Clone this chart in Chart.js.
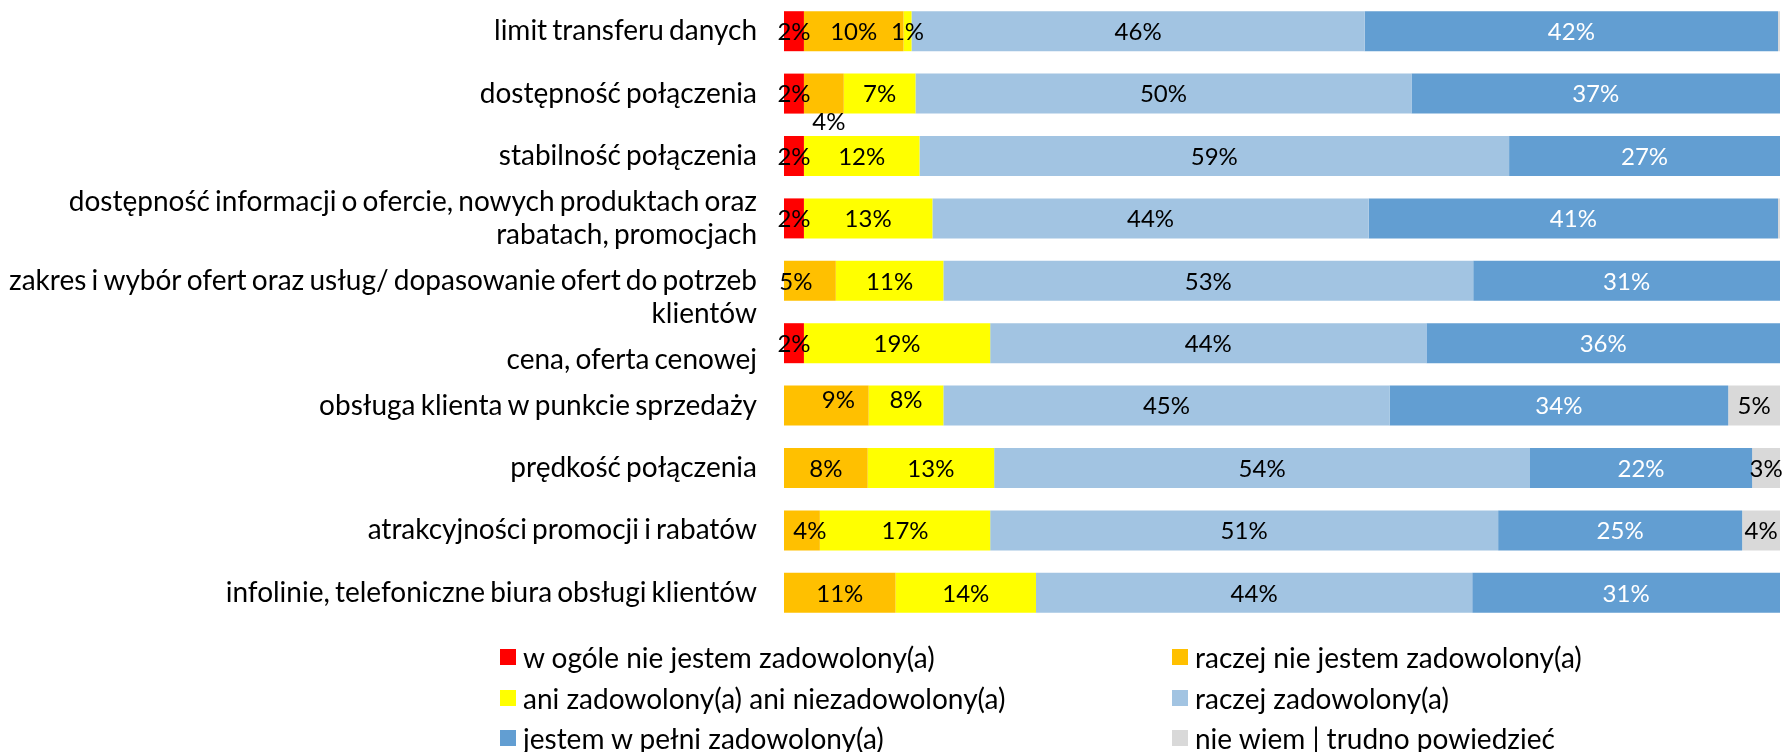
<!DOCTYPE html>
<html>
<head>
<meta charset="utf-8">
<script src="https://cdn.jsdelivr.net/npm/chart.js@4.4.1/dist/chart.umd.min.js"></script>
<style>
  body { margin: 0; background: #fff; }
  #wrap { position: relative; width: 1785px; height: 752px; }
  #legend { position: absolute; left: 0; top: 0; width: 1785px; height: 752px; pointer-events: none; }
  .item { position: absolute; height: 40px; display: flex; align-items: center; font-family: Lato, sans-serif; font-size: 28px; color: #000; white-space: nowrap; }
  .box { width: 16px; height: 16px; margin-right: 7px; }
</style>
</head>
<body>
<div id="wrap">
  <canvas id="chart"></canvas>
  <div id="legend"></div>
</div>
<script>
const categories = [
    "limit transferu danych",
    "dostępność połączenia",
    "stabilność połączenia",
    ["dostępność informacji o ofercie, nowych produktach oraz", "rabatach, promocjach"],
    ["", "zakres i wybór ofert oraz usług/ dopasowanie ofert do potrzeb", "klientów"],
    ["", "cena, oferta cenowej"],
    "obsługa klienta w punkcie sprzedaży",
    "prędkość połączenia",
    "atrakcyjności promocji i rabatów",
    "infolinie, telefoniczne biura obsługi klientów"
];

const seriesNames = [
    "w ogóle nie jestem zadowolony(a)",
    "raczej nie jestem zadowolony(a)",
    "ani zadowolony(a) ani niezadowolony(a)",
    "raczej zadowolony(a)",
    "jestem w pełni zadowolony(a)",
    "nie wiem | trudno powiedzieć"
];

const notSatisfied = [2, 2, 2, 2, 0, 2, 0, 0, 0, 0];
const ratherNot = [10, 4, 0, 0, 5.2, 0, 8.5, 8.4, 3.6, 11.2];
const neutral = [0.8, 7.2, 11.6, 12.9, 10.8, 18.7, 7.5, 12.7, 17.1, 14.1];
const ratherYes = [45.5, 49.8, 59.2, 43.8, 53.2, 43.8, 44.8, 53.8, 51, 43.8];
const fullySatisfied = [41.5, 37, 27.2, 41.1, 30.8, 35.5, 34, 22.3, 24.5, 30.9];
const dontKnow = [0.2, 0, 0, 0.2, 0, 0, 5.2, 2.8, 3.8, 0];

const colors = ['#ff0000', '#ffc000', '#ffff00', '#a2c4e2', '#629ed2', '#d9d9d9'];

// Excel moved a few crowded labels off the segment centre
const labelNudge = { '1,1': [5, 28], '1,4': [-14, 0], '1,6': [12, -6], '2,6': [0, -6], '1,8': [8, 0] };

const allSeries = [notSatisfied, ratherNot, neutral, ratherYes, fullySatisfied, dontKnow];

const barLabels = {
    id: 'barLabels',
    beforeDraw(chart) {
        // category labels in the original have very tight word gaps
        chart.ctx.wordSpacing = '-2px';
    },
    afterDatasetsDraw(chart) {
        const ctx = chart.ctx;
        ctx.save();
        ctx.wordSpacing = '0px';
        ctx.font = '24px Lato';
        ctx.textAlign = 'center';
        ctx.textBaseline = 'middle';
        chart.data.datasets.forEach((ds, i) => {
            const meta = chart.getDatasetMeta(i);
            meta.data.forEach((bar, j) => {
                const v = ds.data[j];
                if (v < 0.5) return;
                let x = (bar.x + bar.base) / 2;
                let y = bar.y + 1;
                const n = labelNudge[i + ',' + j];
                if (n) { x += n[0]; y += n[1]; }
                ctx.fillStyle = i === 4 ? '#ffffff' : '#000000';
                ctx.fillText(Math.round(v) + '%', x, y);
            });
        });
        ctx.restore();
    }
};

const ctx = document.getElementById('chart').getContext('2d');
document.getElementById('chart').parentNode.style.height = '752px';

const chart = new Chart(ctx, {
    type: 'bar',
    data: {
        labels: categories,
        datasets: allSeries.map((data, i) => ({
            label: seriesNames[i],
            data: data,
            backgroundColor: colors[i],
            borderWidth: 0,
            categoryPercentage: 1,
            barPercentage: 0.641
        }))
    },
    options: {
        indexAxis: 'y',
        responsive: true,
        maintainAspectRatio: false,
        animation: false,
        layout: { padding: { left: 0, right: 5, top: 0, bottom: 128 } },
        scales: {
            x: {
                stacked: true,
                min: 0,
                max: 100,
                display: false
            },
            y: {
                stacked: true,
                grid: { display: false, drawTicks: false },
                border: { display: false },
                ticks: {
                    autoSkip: false,
                    padding: 27,
                    color: '#000',
                    font: { family: 'Lato', size: 28 }
                },
                afterFit(scale) {
                    scale.width = 784;
                    scale.paddingTop = 0;
                    scale.paddingBottom = 0;
                }
            }
        },
        plugins: {
            legend: { display: false },
            tooltip: { enabled: false }
        }
    },
    plugins: [barLabels]
});

// two-column legend under the plot
const legendDiv = document.getElementById('legend');
seriesNames.forEach((name, i) => {
    const item = document.createElement('div');
    item.className = 'item';
    item.style.left = (i % 2 === 0 ? 500 : 1172) + 'px';
    item.style.top = (637 + Math.floor(i / 2) * 40.5) + 'px';
    item.innerHTML = `<span class="box" style="background:${colors[i]}"></span>${name}`;
    legendDiv.appendChild(item);
});
</script>
</body>
</html>
